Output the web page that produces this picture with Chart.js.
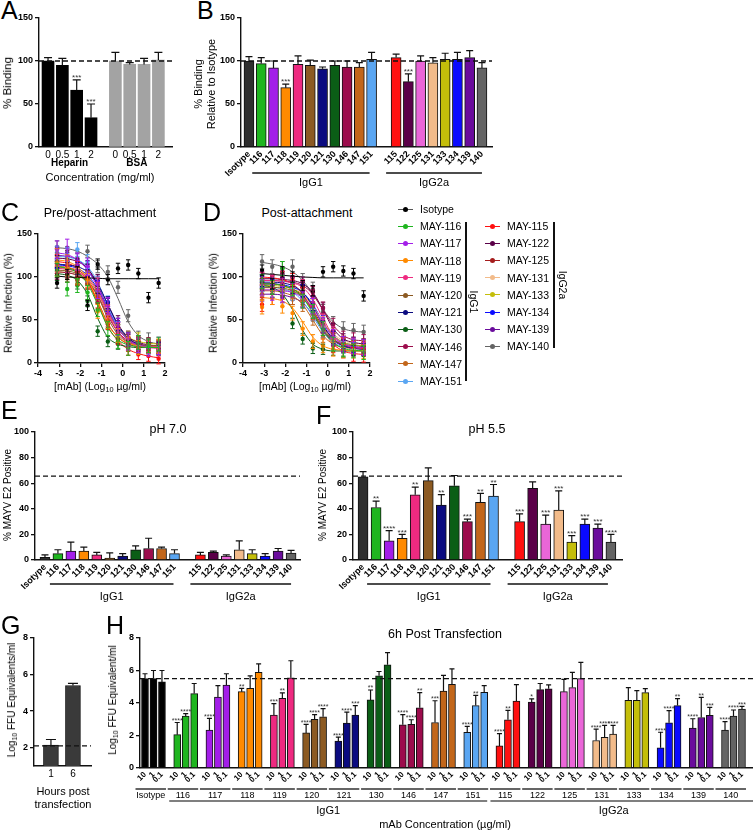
<!DOCTYPE html>
<html>
<head>
<meta charset="utf-8">
<title>MAYV mAb panels</title>
<script src="https://cdn.jsdelivr.net/npm/chart.js@4.4.1/dist/chart.umd.min.js"></script>
<style>
  body { margin: 0; background: #fff; }
  #fig { position: relative; width: 753px; height: 831px; overflow: hidden; font-family: "Liberation Sans", Arial, sans-serif; color: #000; }
  #fig canvas { position: absolute; }
  .t { position: absolute; white-space: nowrap; transform: translate(-50%, -50%); line-height: 1.2; text-align: center; }
  .r { transform: translate(-50%, -50%) rotate(-90deg); }
  .r90 { transform: translate(-50%, -50%) rotate(90deg); }
  .lt { transform: translate(0, -50%); }
  .L { position: absolute; font-size: 25px; line-height: 1; }
  sub { font-size: 0.7em; vertical-align: -0.25em; line-height: 0; }
</style>
</head>
<body>
<div id="fig"></div>
<script>
// ---------- data ----------
const mabs = ['Isotype', '116', '117', '118', '119', '120', '121', '130', '146', '147', '151',
              '115', '122', '125', '131', '133', '134', '139', '140'];
const barColors = ['#2e2e2e', '#1fb51f', '#a31ee8', '#ff8a00', '#ee2a80', '#8c5a22', '#0b0b80', '#0b5e16', '#9c0c4c', '#c2661a', '#5aa6f2',
                   '#ff1010', '#5a0048', '#ea66d8', '#f2bb8a', '#c4be0a', '#0a0aff', '#6a0c9c', '#646464'];
const lineColors = ['#000000', '#1fb51f', '#a31ee8', '#ff8a00', '#ee2a80', '#8c5a22', '#0b0b80', '#0b5e16', '#9c0c4c', '#c2661a', '#5aa6f2',
                    '#ff1010', '#5a0048', '#a51c1c', '#f2bb8a', '#c4be0a', '#0a0aff', '#6a0c9c', '#646464'];

// A: heparin / BSA competition
const aLabels = ['0', '0.5', '1', '2', '0', '0.5', '1', '2'];
const aMean = [100, 95, 66, 34, 100, 96, 96, 101];
const aErr = [4, 8, 12, 16, 10, 2, 7, 9];
const aStars = ['', '', '***', '***', '', '', '', ''];

// B: binding relative to isotype
const bMean = [100, 97, 92, 69, 96, 95, 91, 95, 93, 93, 102, 104, 76, 100, 98, 102, 102, 104, 92];
const bErr = [5, 7, 8, 4, 10, 6, 2, 5, 7, 5, 8, 4, 9, 6, 6, 7, 8, 8, 6];
const bStars = ['', '', '', '***', '', '', '', '', '', '', '', '', '***', '', '', '', '', '', ''];

// C / D: dose response, log10 ug/ml
const doseX = [-3.1, -2.62, -2.14, -1.66, -1.18, -0.7, -0.22, 0.26, 0.74, 1.22, 1.7];
const preMean = [
  [93, 103, 106, 67, 115, 97, 110, 114, 104, 76, 93],
  [108, 86, 90, 82, 62, 40, 25, 17, 24, 20, 22],
  [132, 134, 118, 112, 85, 66, 42, 25, 22, 18, 20],
  [125, 118, 100, 96, 60, 48, 32, 22, 18, 20, 19],
  [106, 112, 108, 95, 92, 60, 40, 22, 22, 18, 15],
  [112, 100, 96, 92, 80, 55, 30, 28, 25, 22, 20],
  [118, 112, 110, 108, 88, 70, 45, 28, 22, 18, 17],
  [102, 100, 92, 72, 37, 25, 22, 20, 16, 18, 15],
  [104, 106, 98, 100, 78, 56, 35, 26, 20, 22, 18],
  [118, 108, 106, 96, 88, 62, 38, 30, 24, 20, 18],
  [128, 126, 132, 118, 92, 70, 40, 28, 20, 18, 17],
  [120, 118, 112, 92, 70, 45, 28, 15, 10, 8, 5],
  [126, 124, 114, 108, 96, 70, 48, 30, 25, 22, 20],
  [110, 112, 105, 92, 75, 48, 28, 20, 19, 18, 17],
  [112, 106, 104, 100, 82, 58, 34, 26, 20, 18, 18],
  [108, 104, 98, 100, 82, 56, 38, 30, 28, 22, 21],
  [116, 112, 108, 100, 90, 66, 42, 27, 20, 18, 17],
  [128, 122, 120, 112, 94, 68, 40, 28, 22, 20, 19],
  [135, 128, 122, 130, 112, 106, 88, 55, 30, 28, 18]
];
const preFit = [
  [101, 100, 99.5, 99, 98.5, 98, 98, 98, 98, 98, 98],
  [112, 110, 105, 92, 68, 42, 27, 21, 19, 18, 18],
  [128, 126, 120, 108, 88, 62, 40, 27, 21, 19, 18],
  [120, 118, 112, 98, 72, 45, 30, 23, 20, 19, 19],
  [110, 109, 106, 98, 82, 58, 36, 24, 20, 18, 17],
  [108, 107, 104, 96, 78, 52, 33, 24, 21, 20, 20],
  [115, 114, 112, 106, 92, 68, 44, 29, 22, 19, 18],
  [104, 102, 96, 80, 52, 30, 22, 19, 18, 18, 18],
  [106, 105, 102, 94, 78, 55, 36, 26, 22, 20, 19],
  [112, 111, 108, 100, 84, 60, 40, 28, 22, 20, 19],
  [124, 123, 120, 112, 94, 66, 42, 28, 22, 20, 19],
  [118, 116, 110, 95, 70, 42, 26, 16, 11, 8, 6],
  [122, 121, 118, 110, 92, 68, 45, 30, 24, 21, 20],
  [112, 111, 106, 94, 72, 46, 30, 22, 19, 18, 18],
  [110, 109, 106, 98, 80, 56, 36, 25, 21, 19, 18],
  [106, 105, 102, 95, 80, 58, 40, 30, 25, 23, 22],
  [114, 113, 110, 102, 86, 62, 40, 27, 21, 19, 18],
  [125, 124, 120, 110, 90, 64, 42, 28, 22, 20, 19],
  [134, 133, 130, 124, 115, 100, 75, 48, 32, 25, 22]
];
const preSd = [6, 8, 10, 8, 7, 6, 7, 6, 7, 6, 8, 6, 7, 6, 6, 7, 6, 7, 7];

const postMean = [
  [108, 92, 106, 100, 90, 84, 106, 112, 107, 104, 78],
  [95, 88, 110, 86, 72, 60, 40, 22, 15, 14, 12],
  [88, 82, 80, 86, 74, 66, 44, 30, 22, 20, 18],
  [65, 76, 66, 58, 40, 25, 20, 16, 14, 14, 13],
  [98, 95, 100, 92, 90, 78, 50, 35, 22, 18, 17],
  [86, 90, 84, 88, 74, 62, 40, 28, 22, 20, 18],
  [96, 92, 95, 88, 84, 68, 42, 30, 20, 16, 16],
  [92, 86, 84, 46, 28, 17, 16, 15, 14, 14, 14],
  [98, 94, 96, 92, 88, 82, 64, 45, 30, 28, 26],
  [80, 86, 80, 74, 66, 50, 30, 22, 18, 16, 16],
  [90, 84, 88, 80, 72, 56, 36, 22, 18, 17, 16],
  [68, 76, 98, 96, 80, 58, 36, 20, 14, 10, 9],
  [100, 96, 98, 95, 94, 84, 64, 40, 28, 24, 22],
  [90, 94, 88, 84, 80, 64, 42, 28, 22, 18, 17],
  [84, 88, 86, 80, 78, 68, 48, 34, 26, 22, 22],
  [92, 88, 90, 84, 80, 68, 48, 32, 24, 20, 20],
  [94, 90, 92, 86, 84, 70, 48, 30, 24, 20, 20],
  [78, 82, 76, 74, 70, 58, 38, 26, 20, 18, 17],
  [118, 112, 110, 112, 96, 86, 60, 46, 40, 38, 36]
];
const postFit = [
  [104, 103, 102, 101, 100, 99.5, 99, 99, 99, 99, 99],
  [92, 92, 90, 86, 76, 58, 38, 24, 17, 15, 14],
  [85, 85, 84, 82, 76, 64, 46, 30, 22, 19, 18],
  [76, 75, 72, 64, 48, 30, 20, 16, 15, 14, 14],
  [96, 96, 95, 93, 88, 74, 52, 32, 22, 18, 17],
  [88, 88, 87, 84, 76, 60, 40, 27, 22, 20, 19],
  [94, 94, 93, 90, 82, 66, 44, 28, 20, 17, 16],
  [90, 88, 80, 62, 38, 22, 16, 14, 14, 14, 14],
  [96, 96, 95, 94, 90, 80, 62, 44, 32, 27, 26],
  [84, 84, 82, 78, 68, 50, 32, 22, 18, 17, 16],
  [88, 88, 86, 82, 72, 54, 36, 24, 19, 17, 16],
  [100, 99, 97, 92, 80, 60, 38, 22, 14, 11, 10],
  [98, 98, 97, 96, 92, 82, 62, 40, 28, 24, 22],
  [92, 92, 90, 86, 78, 62, 42, 28, 21, 18, 17],
  [86, 86, 85, 83, 78, 66, 48, 34, 26, 23, 22],
  [90, 90, 89, 86, 80, 66, 48, 32, 24, 21, 20],
  [92, 92, 91, 88, 82, 68, 48, 32, 24, 21, 20],
  [80, 80, 79, 76, 70, 56, 38, 26, 20, 18, 17],
  [117, 115, 112, 106, 96, 80, 62, 48, 40, 37, 36]
];
const postSd = [6, 8, 9, 8, 7, 6, 7, 6, 7, 6, 7, 8, 6, 7, 6, 6, 7, 6, 8];

// E / F: E2 exposure at pH 7.0 and 5.5
const eMean = [2, 5, 7, 7, 4, 1.5, 3, 8, 9, 9, 5, 4, 6, 3, 8, 5, 3, 7, 5.5];
const eErr = [2, 3, 7, 3, 2, 4, 2, 3, 8, 1, 3, 2, 1, 1, 7, 3, 2, 2, 2];
const fMean = [65, 41, 15, 17, 51, 62, 43, 58, 30, 45, 50, 30, 56, 28, 39, 14, 28, 25, 14];
const fErr = [4, 5, 8, 3, 6, 10, 8, 8, 2, 7, 9, 6, 5, 7, 15, 5, 4, 3, 6];
const fStars = ['', '**', '****', '***', '**', '', '**', '', '***', '**', '**',
                '***', '', '***', '***', '***', '***', '***', '****'];

// G: transfection
const gHours = ['1', '6'];
const gMean = [2.15, 5.4];
const gErr = [0.3, 0.12];

// H: 6 h post transfection, 10 / 1 / 0.1 ug/ml per mAb
const hConc = ['10', '1', '0.1'];
const hMean = [
  [5.5, 5.5, 5.3], [2.05, 3.2, 4.58], [2.33, 4.37, 5.11], [4.7, 4.9, 5.88], [3.26, 4.29, 5.55],
  [2.16, 2.99, 3.15], [1.65, 2.76, 3.26], [4.19, 5.67, 6.35], [2.66, 2.68, 3.71], [2.8, 4.74, 5.15],
  [2.2, 3.84, 4.66], [1.36, 2.97, 4.12], [4.06, 4.82, 4.87], [4.7, 4.95, 5.5], [1.69, 1.88, 2.08],
  [4.16, 4.16, 4.64], [1.24, 2.78, 3.84], [2.45, 3.11, 3.24], [2.33, 3.2, 3.63]
];
const hErr = [
  [0.3, 0.5, 0.7], [0.75, 0.15, 0.62], [0.72, 0.7, 0.69], [0.2, 0.77, 0.53], [0.7, 0.33, 1.05],
  [0.52, 0.29, 0.5], [0.25, 0.68, 0.58], [0.61, 0.27, 0.75], [0.62, 0.29, 0.93], [1.34, 0.96, 0.95],
  [0.36, 0.63, 0.41], [0.76, 0.58, 1.01], [0.19, 0.38, 0.24], [0.76, 0.93, 1.0], [0.7, 0.74, 0.54],
  [0.79, 0.6, 0.25], [0.96, 0.75, 0.43], [0.58, 1.24, 0.49], [0.52, 0.37, 0.16]
];
const hStars = [
  ['', '', ''], ['****', '****', ''], ['****', '', ''], ['**', '', ''], ['***', '**', ''],
  ['****', '****', '****'], ['****', '****', '***'], ['**', '', ''], ['****', '****', '**'], ['***', '', ''],
  ['****', '**', ''], ['****', '**', ''], ['*', '', ''], ['', '', ''], ['****', '****', '****'],
  ['', '', ''], ['****', '****', '**'], ['****', '**', '***'], ['****', '****', '***']
];

// ---------- plugins ----------
const FONT = "'Liberation Sans', Arial, sans-serif";
Chart.defaults.font.family = FONT;
Chart.defaults.color = '#000';

const errorBars = {
  id: 'errorBars',
  afterDatasetsDraw(chart) {
    const ctx = chart.ctx, ys = chart.scales.y;
    for (let i = chart.data.datasets.length - 1; i >= 0; i--) {
      const ds = chart.data.datasets[i];
      if (ds.err === undefined) continue;
      const meta = chart.getDatasetMeta(i);
      meta.data.forEach((el, j) => {
        const v = ds.data[j].y;
        const e = Array.isArray(ds.err) ? ds.err[j] : ds.err;
        const top = ys.getPixelForValue(v + e);
        const bot = ds.errBoth ? ys.getPixelForValue(v - e) : el.y;
        const cap = ds.cap || 3;
        ctx.save();
        ctx.strokeStyle = ds.errColor || '#111';
        ctx.lineWidth = ds.errWidth || 1.2;
        ctx.beginPath();
        ctx.moveTo(el.x, bot); ctx.lineTo(el.x, top);
        ctx.moveTo(el.x - cap, top); ctx.lineTo(el.x + cap, top);
        if (ds.errBoth) { ctx.moveTo(el.x - cap, bot); ctx.lineTo(el.x + cap, bot); }
        ctx.stroke();
        if (ds.stars && ds.stars[j]) {
          ctx.fillStyle = '#333';
          ctx.font = (ds.starSize || 8) + 'px ' + FONT;
          ctx.textAlign = 'center';
          ctx.textBaseline = 'bottom';
          ctx.fillText(ds.stars[j], el.x, top + 2);
        }
        ctx.restore();
      });
    }
  }
};

const refLine = {
  id: 'refLine',
  afterDatasetsDraw(chart, args, opts) {
    if (opts.value === undefined) return;
    const {ctx, chartArea} = chart;
    const y = chart.scales.y.getPixelForValue(opts.value);
    ctx.save();
    ctx.setLineDash([5, 3]);
    ctx.lineWidth = 1.3;
    ctx.strokeStyle = '#111';
    ctx.beginPath();
    ctx.moveTo(chartArea.left, y);
    ctx.lineTo(opts.to || chartArea.right, y);
    ctx.stroke();
    ctx.restore();
  }
};

const groups = {
  id: 'groups',
  afterDraw(chart, args, opts) {
    if (!opts.items) return;
    const {ctx, chartArea} = chart, xs = chart.scales.x;
    opts.items.forEach(g => {
      const x1 = xs.getPixelForValue(g.from) + (g.dx1 || 0);
      const x2 = Math.min(xs.getPixelForValue(g.to) + (g.dx2 || 0), chart.width);
      const y = chartArea.bottom + g.dy;
      ctx.save();
      if (g.line !== false) {
        ctx.strokeStyle = g.lineColor || '#111';
        ctx.lineWidth = g.lw || 1.3;
        ctx.beginPath(); ctx.moveTo(x1, y); ctx.lineTo(x2, y); ctx.stroke();
      }
      if (g.label) {
        ctx.fillStyle = '#000';
        ctx.font = (g.bold ? 'bold ' : '') + (g.size || 11) + 'px ' + FONT;
        ctx.textAlign = 'center';
        ctx.textBaseline = 'middle';
        ctx.fillText(g.label, (x1 + x2) / 2 + (g.lx || 0), y + g.ty);
      }
      ctx.restore();
    });
  }
};
Chart.register(errorBars, refLine, groups);

// ---------- helpers ----------
const fig = document.getElementById('fig');

function text(x, y, html, size, cls, extra) {
  const d = document.createElement('div');
  d.className = 't ' + (cls || '');
  d.style.left = x + 'px';
  d.style.top = y + 'px';
  d.style.fontSize = size + 'px';
  if (extra) Object.assign(d.style, extra);
  d.innerHTML = html;
  fig.appendChild(d);
}

function letter(x, y, s) {
  const d = document.createElement('div');
  d.className = 'L';
  d.style.left = x + 'px';
  d.style.top = y + 'px';
  d.textContent = s;
  fig.appendChild(d);
}

function box(x, y, w, h, style) {
  const d = document.createElement('div');
  Object.assign(d.style, {position: 'absolute', left: x + 'px', top: y + 'px', width: w + 'px', height: h + 'px'}, style);
  fig.appendChild(d);
}

function yAxis(min, max, step, extra) {
  return Object.assign({
    type: 'linear', min, max,
    ticks: {stepSize: step, color: '#000', font: {size: 9, weight: 'bold'}, padding: 2},
    grid: {display: true, drawOnChartArea: false, drawTicks: true, tickLength: 4, color: '#111', lineWidth: 1.3},
    border: {display: true, color: '#111', width: 1.4}
  }, extra || {});
}

function xCat(min, max, pos, labels, rot, font) {
  return {
    type: 'linear', min, max, offset: false,
    afterBuildTicks: s => { s.ticks = pos.map(v => ({value: v})); },
    ticks: {autoSkip: false, maxRotation: rot, minRotation: rot, color: '#000',
            font: font || {size: 9, weight: 'bold'}, padding: 2,
            callback: (v, i) => labels[i]},
    grid: {display: false, drawTicks: false},
    border: {display: true, color: '#111', width: 1.4}
  };
}

function build(x, y, w, h, area, type, datasets, scales, plugins) {
  const c = document.createElement('canvas');
  c.width = w; c.height = h;
  Object.assign(c.style, {left: x + 'px', top: y + 'px', width: w + 'px', height: h + 'px'});
  fig.appendChild(c);
  const [l, t, r, b] = area;
  scales.y.afterFit = s => { s.width = l; s.paddingTop = 0; s.paddingBottom = 0; };
  scales.x.afterFit = s => { s.height = h - b; s.paddingLeft = 0; s.paddingRight = 0; };
  return new Chart(c, {
    type,
    data: {datasets},
    options: {
      responsive: false, animation: false, devicePixelRatio: 1,
      layout: {padding: {left: 0, top: t, right: w - r, bottom: 0}},
      scales,
      plugins: Object.assign({legend: {display: false}, tooltip: {enabled: false}}, plugins || {})
    }
  });
}

function barPanel(x, y, w, h, area, pos, labels, means, errs, colors, o) {
  const ds = [{
    data: pos.map((p, i) => ({x: p, y: means[i]})),
    backgroundColor: colors,
    borderColor: '#111',
    borderWidth: o.bw === undefined ? 1 : o.bw,
    barThickness: o.bar,
    err: errs, stars: o.stars, cap: o.cap, starSize: o.starSize
  }];
  const scales = {
    x: xCat(o.xmin, o.xmax, pos, labels, o.rot, o.xfont),
    y: yAxis(o.ymin, o.ymax, o.step, o.yextra)
  };
  return build(x, y, w, h, area, 'bar', ds, scales,
    {refLine: {value: o.ref, to: o.refTo}, groups: {items: o.groups || []}});
}

// positions: 11 IgG1 slots, one blank slot, 8 IgG2a slots
const slotPos = mabs.map((m, i) => i < 11 ? i : i + 1);

// ---------- A ----------
letter(1, -2, 'A');
barPanel(0, 0, 180, 190, [39, 18, 172, 147], [0, 1, 2, 3, 4.7, 5.7, 6.7, 7.7], aLabels, aMean, aErr,
  ['#000', '#000', '#000', '#000', '#a3a3a3', '#a3a3a3', '#a3a3a3', '#a3a3a3'],
  {bw: 0, bar: 12, cap: 4, stars: aStars, xmin: -0.63, xmax: 8.65, rot: 0, xfont: {size: 10},
   ymin: 0, ymax: 150, step: 50, ref: 100,
   groups: [{from: 0, to: 3, dy: 16, ty: 0, line: false, label: 'Heparin', bold: true, size: 10},
            {from: 4.7, to: 7.7, dy: 16, ty: 0, line: false, label: 'BSA', bold: true, size: 10}]});
text(8, 83, '% Binding', 11.5, 'r');
text(100, 178, 'Concentration (mg/ml)', 11);

// ---------- B ----------
letter(197, -2, 'B');
barPanel(200, 0, 300, 190, [41, 18, 292, 147], slotPos, mabs, bMean, bErr, barColors,
  {bar: 10, cap: 3.5, stars: bStars, xmin: -0.65, xmax: 19.82, rot: 45,
   ymin: 0, ymax: 150, step: 50, ref: 100,
   groups: [{from: 1, to: 10, dx1: -9, dx2: -2, dy: 26, ty: 10, label: 'IgG1'},
            {from: 12, to: 19, dx1: -10, dx2: 0, dy: 26, ty: 10, label: 'IgG2a'}]});
text(205, 84, '% Binding<br>Relative to Isotype', 11, 'r');

// ---------- C / D ----------
function dosePanel(x, y, w, h, area, mean, fit, sd) {
  const ds = [];
  mabs.forEach((m, i) => {
    ds.push({
      data: doseX.map((d, k) => ({x: d, y: mean[i][k]})),
      showLine: false, pointRadius: 2.2, pointBackgroundColor: lineColors[i], pointBorderWidth: 0,
      err: sd[i], errBoth: true, errColor: lineColors[i], errWidth: 1, cap: 2.2
    });
    ds.push({
      data: doseX.map((d, k) => ({x: d, y: fit[i][k]})),
      showLine: true, pointRadius: 0, borderColor: lineColors[i], borderWidth: 1,
      cubicInterpolationMode: 'monotone'
    });
  });
  const scales = {
    x: {type: 'linear', min: -4, max: 2,
        ticks: {stepSize: 1, color: '#000', font: {size: 9, weight: 'bold'}, padding: 1},
        grid: {display: true, drawOnChartArea: false, drawTicks: true, tickLength: 4, color: '#111', lineWidth: 1.3},
        border: {display: true, color: '#111', width: 1.4}},
    y: yAxis(0, 150, 50)
  };
  return build(x, y, w, h, area, 'scatter', ds, scales);
}

letter(1, 200, 'C');
text(100, 213, 'Pre/post-attachment', 12.5);
dosePanel(0, 190, 180, 200, [38, 44, 165, 173], preMean, preFit, preSd);
text(8, 303, 'Relative Infection (%)', 10.5, 'r');
text(100, 386, '[mAb] (Log<sub>10</sub> µg/ml)', 10.5);

letter(203, 200, 'D');
text(307, 213, 'Post-attachment', 12.5);
dosePanel(190, 190, 190, 200, [53, 44, 180, 173], postMean, postFit, postSd);
text(213, 303, 'Relative Infection (%)', 10.5, 'r');
text(305, 386, '[mAb] (Log<sub>10</sub> µg/ml)', 10.5);

// ---------- legend ----------
function legendRow(x, y, color, label) {
  box(x, y - 0.5, 15, 1, {background: color === '#000000' ? '#555' : color});
  box(x + 5, y - 2.5, 5, 5, {background: color, borderRadius: '50%'});
  text(x + 22, y, label, 10.5, 'lt');
}
mabs.forEach((m, i) => {
  const label = i === 0 ? m : 'MAY-' + m;
  if (i < 11) legendRow(398, 209 + i * 17.2, lineColors[i], label);
  else legendRow(485, 226 + (i - 11) * 17.2, lineColors[i], label);
});
box(465, 222, 1.5, 159, {background: '#111'});
text(474, 302, 'IgG1', 10.5, 'r90');
box(553, 222, 1.5, 126, {background: '#111'});
text(563, 285, 'IgG2a', 10.5, 'r90');

// ---------- E ----------
letter(1, 398, 'E');
text(168, 429, 'pH 7.0', 12.5);
barPanel(0, 390, 310, 220, [35, 42, 300, 170], slotPos, mabs, eMean, eErr, barColors,
  {bar: 10, cap: 3.5, xmin: -0.77, xmax: 19.69, rot: 45,
   ymin: 0, ymax: 100, step: 20, ref: 65.5,
   groups: [{from: 1, to: 10, dx1: -8, dx2: -1, dy: 24, ty: 13, label: 'IgG1'},
            {from: 12, to: 19, dx1: -10, dx2: 0, dy: 24, ty: 13, label: 'IgG2a'}]});
text(8, 495, '% MAYV E2 Positive', 10, 'r');

// ---------- F ----------
letter(316, 403, 'F');
text(487, 429, 'pH 5.5', 12.5);
barPanel(300, 390, 340, 220, [53, 42, 322, 170], slotPos, mabs, fMean, fErr, barColors,
  {bar: 10, cap: 3.5, stars: fStars, xmin: -0.77, xmax: 19.85, rot: 45,
   ymin: 0, ymax: 100, step: 20, ref: 65.5,
   groups: [{from: 1, to: 10, dx1: -9, dx2: -3, dy: 24, ty: 13, label: 'IgG1'},
            {from: 12, to: 19, dx1: -12, dx2: -3, dy: 24, ty: 13, label: 'IgG2a'}]});
text(323, 495, '% MAYV E2 Positive', 10, 'r');

// ---------- G ----------
letter(1, 613, 'G');
barPanel(0, 590, 100, 241, [34, 48, 91, 176], [0, 1], gHours, gMean, gErr, ['#3a3a3a', '#3a3a3a'],
  {bar: 15, cap: 5, xmin: -0.77, xmax: 1.82, rot: 0, xfont: {size: 10},
   ymin: 1, ymax: 8, step: 2, ref: 2.1,
   yextra: {afterBuildTicks: s => { s.ticks = [2, 4, 6, 8].map(v => ({value: v})); }}});
text(12, 700, 'Log<sub>10</sub> FFU Equivalents/ml', 10, 'r');
text(63, 792, 'Hours post', 11);
text(63, 805, 'transfection', 11);

// ---------- H ----------
letter(106, 613, 'H');
text(445, 634, '6h Post Transfection', 12.5);
const hPos = [], hLab = [], hVal = [], hE = [], hS = [], hCol = [];
hMean.forEach((g, gi) => g.forEach((v, j) => {
  hPos.push(gi * 3.8 + j);
  hLab.push(hConc[j]);
  hVal.push(v);
  hE.push(hErr[gi][j]);
  hS.push(hStars[gi][j]);
  hCol.push(gi === 0 ? '#000' : barColors[gi]);
}));
const hGroups = mabs.map((m, gi) => ({from: gi * 3.8, to: gi * 3.8 + 2, dx1: -9.5, dx2: 4, dy: 21, ty: 7, label: m, size: 9}));
hGroups.push({from: 3.8, to: 10 * 3.8 + 2, dx1: -8, dx2: 3, dy: 33, ty: 10, label: 'IgG1', size: 11, lineColor: '#555'});
hGroups.push({from: 11 * 3.8, to: 18 * 3.8 + 2, dx1: -9, dx2: 12, dy: 33, ty: 10, label: 'IgG2a', size: 11, lineColor: '#555', lx: -8});
barPanel(100, 590, 653, 241, [40, 48, 653, 178], hPos, hLab, hVal, hE, hCol,
  {bar: 7, cap: 2.5, stars: hS, starSize: 7, xmin: -0.59, xmax: 71.7, rot: 45, xfont: {size: 8, weight: 'bold'},
   ymin: 0, ymax: 8, step: 2, ref: 5.5, groups: hGroups});
text(113, 700, 'Log<sub>10</sub> FFU Equivalent/ml', 10, 'r');
text(445, 825, 'mAb Concentration (µg/ml)', 11);
</script>
</body>
</html>
